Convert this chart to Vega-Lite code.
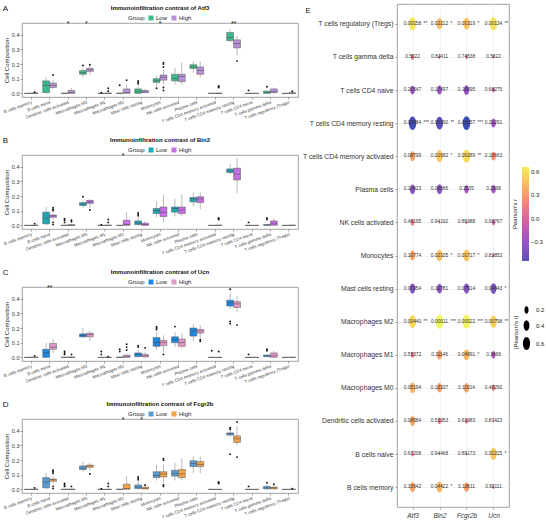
{
"$schema": "https://vega.github.io/schema/vega-lite/v6.json",
"padding": {"top": 3, "left": 2, "right": 0, "bottom": 0},
"config": {
  "font": "Liberation Sans, Arial, sans-serif",
  "view": {"stroke": "#8a8a8a", "strokeWidth": 0.8},
  "axis": {"labelColor": "#333", "tickColor": "#666", "tickWidth": 0.6, "tickSize": 2, "domain": false, "titleColor": "#222", "titleFontWeight": "normal", "grid": false, "labelFont": "Liberation Sans, Arial, sans-serif", "titleFont": "Liberation Sans, Arial, sans-serif"},
  "legend": {"padding": 0, "labelColor": "#222", "titleColor": "#222", "titleFontWeight": "normal", "labelFont": "Liberation Sans, Arial, sans-serif", "titleFont": "Liberation Sans, Arial, sans-serif"},
  "title": {"color": "#111", "font": "Liberation Sans, Arial, sans-serif"},
  "text": {"font": "Liberation Sans, Arial, sans-serif"}
},
"resolve": {"scale": {"color": "independent", "size": "independent"}, "legend": {"color": "independent", "size": "independent"}},
"datasets": {
"box": [
{"g":"Atf3","c":"B cells memory","k":"Low","lo":0,"q1":0,"md":0,"q3":0,"hi":0.001},
{"g":"Atf3","c":"B cells memory","k":"High","lo":0,"q1":0,"md":0.001,"q3":0.002,"hi":0.004},
{"g":"Atf3","c":"B cells naive","k":"Low","lo":0,"q1":0.005,"md":0.055,"q3":0.085,"hi":0.11},
{"g":"Atf3","c":"B cells naive","k":"High","lo":0.03,"q1":0.04,"md":0.055,"q3":0.07,"hi":0.09},
{"g":"Atf3","c":"Dendritic cells activated","k":"Low","lo":0,"q1":0,"md":0,"q3":0.002,"hi":0.004},
{"g":"Atf3","c":"Dendritic cells activated","k":"High","lo":0,"q1":0,"md":0.005,"q3":0.02,"hi":0.035},
{"g":"Atf3","c":"Macrophages M0","k":"Low","lo":0.11,"q1":0.13,"md":0.14,"q3":0.155,"hi":0.17},
{"g":"Atf3","c":"Macrophages M0","k":"High","lo":0.13,"q1":0.15,"md":0.16,"q3":0.17,"hi":0.185},
{"g":"Atf3","c":"Macrophages M1","k":"Low","lo":0,"q1":0,"md":0,"q3":0,"hi":0.001},
{"g":"Atf3","c":"Macrophages M1","k":"High","lo":0,"q1":0,"md":0,"q3":0.002,"hi":0.003},
{"g":"Atf3","c":"Macrophages M2","k":"Low","lo":0,"q1":0,"md":0,"q3":0.002,"hi":0.005},
{"g":"Atf3","c":"Macrophages M2","k":"High","lo":0,"q1":0,"md":0.005,"q3":0.03,"hi":0.06},
{"g":"Atf3","c":"Mast cells resting","k":"Low","lo":0,"q1":0,"md":0.01,"q3":0.03,"hi":0.05},
{"g":"Atf3","c":"Mast cells resting","k":"High","lo":0,"q1":0.005,"md":0.01,"q3":0.02,"hi":0.03},
{"g":"Atf3","c":"Monocytes","k":"Low","lo":0.05,"q1":0.075,"md":0.085,"q3":0.1,"hi":0.12},
{"g":"Atf3","c":"Monocytes","k":"High","lo":0.06,"q1":0.09,"md":0.11,"q3":0.125,"hi":0.16},
{"g":"Atf3","c":"NK cells activated","k":"Low","lo":0.06,"q1":0.085,"md":0.1,"q3":0.13,"hi":0.175},
{"g":"Atf3","c":"NK cells activated","k":"High","lo":0.06,"q1":0.08,"md":0.115,"q3":0.13,"hi":0.21},
{"g":"Atf3","c":"Plasma cells","k":"Low","lo":0.14,"q1":0.17,"md":0.18,"q3":0.195,"hi":0.22},
{"g":"Atf3","c":"Plasma cells","k":"High","lo":0.11,"q1":0.13,"md":0.155,"q3":0.18,"hi":0.215},
{"g":"Atf3","c":"T cells CD4 memory activated","k":"Low","lo":0,"q1":0,"md":0,"q3":0.001,"hi":0.002},
{"g":"Atf3","c":"T cells CD4 memory activated","k":"High","lo":0,"q1":0,"md":0,"q3":0.002,"hi":0.003},
{"g":"Atf3","c":"T cells CD4 memory resting","k":"Low","lo":0.35,"q1":0.36,"md":0.38,"q3":0.415,"hi":0.44},
{"g":"Atf3","c":"T cells CD4 memory resting","k":"High","lo":0.26,"q1":0.31,"md":0.34,"q3":0.365,"hi":0.39},
{"g":"Atf3","c":"T cells CD4 naive","k":"Low","lo":0,"q1":0,"md":0,"q3":0,"hi":0.001},
{"g":"Atf3","c":"T cells CD4 naive","k":"High","lo":0,"q1":0,"md":0,"q3":0,"hi":0.001},
{"g":"Atf3","c":"T cells gamma delta","k":"Low","lo":0,"q1":0,"md":0.005,"q3":0.015,"hi":0.02},
{"g":"Atf3","c":"T cells gamma delta","k":"High","lo":0,"q1":0.005,"md":0.01,"q3":0.03,"hi":0.04},
{"g":"Atf3","c":"T cells regulatory (Tregs)","k":"Low","lo":0,"q1":0,"md":0,"q3":0,"hi":0.001},
{"g":"Atf3","c":"T cells regulatory (Tregs)","k":"High","lo":0,"q1":0,"md":0,"q3":0.005,"hi":0.01},
{"g":"Bin2","c":"B cells memory","k":"Low","lo":0,"q1":0,"md":0,"q3":0,"hi":0.001},
{"g":"Bin2","c":"B cells memory","k":"High","lo":0,"q1":0,"md":0,"q3":0.002,"hi":0.005},
{"g":"Bin2","c":"B cells naive","k":"Low","lo":0,"q1":0.01,"md":0.05,"q3":0.09,"hi":0.125},
{"g":"Bin2","c":"B cells naive","k":"High","lo":0.04,"q1":0.055,"md":0.065,"q3":0.07,"hi":0.08},
{"g":"Bin2","c":"Dendritic cells activated","k":"Low","lo":0,"q1":0,"md":0,"q3":0.001,"hi":0.002},
{"g":"Bin2","c":"Dendritic cells activated","k":"High","lo":0,"q1":0,"md":0,"q3":0.005,"hi":0.01},
{"g":"Bin2","c":"Macrophages M0","k":"Low","lo":0.12,"q1":0.135,"md":0.145,"q3":0.155,"hi":0.17},
{"g":"Bin2","c":"Macrophages M0","k":"High","lo":0.12,"q1":0.15,"md":0.16,"q3":0.17,"hi":0.18},
{"g":"Bin2","c":"Macrophages M1","k":"Low","lo":0,"q1":0,"md":0,"q3":0,"hi":0.001},
{"g":"Bin2","c":"Macrophages M1","k":"High","lo":0,"q1":0,"md":0,"q3":0.002,"hi":0.003},
{"g":"Bin2","c":"Macrophages M2","k":"Low","lo":0,"q1":0,"md":0,"q3":0,"hi":0.002},
{"g":"Bin2","c":"Macrophages M2","k":"High","lo":0,"q1":0,"md":0.005,"q3":0.035,"hi":0.09},
{"g":"Bin2","c":"Mast cells resting","k":"Low","lo":0,"q1":0.005,"md":0.015,"q3":0.03,"hi":0.05},
{"g":"Bin2","c":"Mast cells resting","k":"High","lo":0,"q1":0,"md":0.005,"q3":0.015,"hi":0.03},
{"g":"Bin2","c":"Monocytes","k":"Low","lo":0.055,"q1":0.08,"md":0.1,"q3":0.115,"hi":0.165},
{"g":"Bin2","c":"Monocytes","k":"High","lo":0.02,"q1":0.06,"md":0.09,"q3":0.125,"hi":0.21},
{"g":"Bin2","c":"NK cells activated","k":"Low","lo":0.06,"q1":0.09,"md":0.115,"q3":0.125,"hi":0.18},
{"g":"Bin2","c":"NK cells activated","k":"High","lo":0.06,"q1":0.08,"md":0.105,"q3":0.125,"hi":0.21},
{"g":"Bin2","c":"Plasma cells","k":"Low","lo":0.13,"q1":0.16,"md":0.18,"q3":0.19,"hi":0.225},
{"g":"Bin2","c":"Plasma cells","k":"High","lo":0.11,"q1":0.155,"md":0.18,"q3":0.195,"hi":0.225},
{"g":"Bin2","c":"T cells CD4 memory activated","k":"Low","lo":0,"q1":0,"md":0,"q3":0,"hi":0.001},
{"g":"Bin2","c":"T cells CD4 memory activated","k":"High","lo":0,"q1":0,"md":0,"q3":0.002,"hi":0.004},
{"g":"Bin2","c":"T cells CD4 memory resting","k":"Low","lo":0.35,"q1":0.36,"md":0.37,"q3":0.385,"hi":0.42},
{"g":"Bin2","c":"T cells CD4 memory resting","k":"High","lo":0.22,"q1":0.31,"md":0.35,"q3":0.39,"hi":0.46},
{"g":"Bin2","c":"T cells CD4 naive","k":"Low","lo":0,"q1":0,"md":0,"q3":0,"hi":0.001},
{"g":"Bin2","c":"T cells CD4 naive","k":"High","lo":0,"q1":0,"md":0,"q3":0,"hi":0.001},
{"g":"Bin2","c":"T cells gamma delta","k":"Low","lo":0,"q1":0,"md":0.002,"q3":0.005,"hi":0.01},
{"g":"Bin2","c":"T cells gamma delta","k":"High","lo":0,"q1":0,"md":0.01,"q3":0.03,"hi":0.05},
{"g":"Bin2","c":"T cells regulatory (Tregs)","k":"Low","lo":0,"q1":0,"md":0,"q3":0,"hi":0.001},
{"g":"Bin2","c":"T cells regulatory (Tregs)","k":"High","lo":0,"q1":0,"md":0,"q3":0.002,"hi":0.004},
{"g":"Ucn","c":"B cells memory","k":"Low","lo":0,"q1":0,"md":0,"q3":0,"hi":0.001},
{"g":"Ucn","c":"B cells memory","k":"High","lo":0,"q1":0,"md":0,"q3":0.002,"hi":0.004},
{"g":"Ucn","c":"B cells naive","k":"Low","lo":0,"q1":0,"md":0.03,"q3":0.055,"hi":0.1},
{"g":"Ucn","c":"B cells naive","k":"High","lo":0.03,"q1":0.055,"md":0.07,"q3":0.095,"hi":0.125},
{"g":"Ucn","c":"Dendritic cells activated","k":"Low","lo":0,"q1":0,"md":0,"q3":0.001,"hi":0.003},
{"g":"Ucn","c":"Dendritic cells activated","k":"High","lo":0,"q1":0,"md":0,"q3":0.003,"hi":0.005},
{"g":"Ucn","c":"Macrophages M0","k":"Low","lo":0.13,"q1":0.14,"md":0.15,"q3":0.16,"hi":0.2},
{"g":"Ucn","c":"Macrophages M0","k":"High","lo":0.11,"q1":0.14,"md":0.155,"q3":0.165,"hi":0.18},
{"g":"Ucn","c":"Macrophages M1","k":"Low","lo":0,"q1":0,"md":0,"q3":0,"hi":0.001},
{"g":"Ucn","c":"Macrophages M1","k":"High","lo":0,"q1":0,"md":0,"q3":0,"hi":0.002},
{"g":"Ucn","c":"Macrophages M2","k":"Low","lo":0,"q1":0,"md":0,"q3":0.002,"hi":0.005},
{"g":"Ucn","c":"Macrophages M2","k":"High","lo":0,"q1":0,"md":0.005,"q3":0.015,"hi":0.02},
{"g":"Ucn","c":"Mast cells resting","k":"Low","lo":0,"q1":0.005,"md":0.02,"q3":0.03,"hi":0.05},
{"g":"Ucn","c":"Mast cells resting","k":"High","lo":0,"q1":0.003,"md":0.01,"q3":0.02,"hi":0.035},
{"g":"Ucn","c":"Monocytes","k":"Low","lo":0.05,"q1":0.075,"md":0.1,"q3":0.135,"hi":0.17},
{"g":"Ucn","c":"Monocytes","k":"High","lo":0.035,"q1":0.08,"md":0.1,"q3":0.115,"hi":0.15},
{"g":"Ucn","c":"NK cells activated","k":"Low","lo":0.07,"q1":0.1,"md":0.12,"q3":0.14,"hi":0.17},
{"g":"Ucn","c":"NK cells activated","k":"High","lo":0.06,"q1":0.075,"md":0.1,"q3":0.125,"hi":0.165},
{"g":"Ucn","c":"Plasma cells","k":"Low","lo":0.11,"q1":0.145,"md":0.18,"q3":0.2,"hi":0.225},
{"g":"Ucn","c":"Plasma cells","k":"High","lo":0.13,"q1":0.165,"md":0.18,"q3":0.19,"hi":0.22},
{"g":"Ucn","c":"T cells CD4 memory activated","k":"Low","lo":0,"q1":0,"md":0,"q3":0,"hi":0.001},
{"g":"Ucn","c":"T cells CD4 memory activated","k":"High","lo":0,"q1":0,"md":0,"q3":0,"hi":0.001},
{"g":"Ucn","c":"T cells CD4 memory resting","k":"Low","lo":0.33,"q1":0.35,"md":0.375,"q3":0.39,"hi":0.44},
{"g":"Ucn","c":"T cells CD4 memory resting","k":"High","lo":0.31,"q1":0.34,"md":0.365,"q3":0.38,"hi":0.42},
{"g":"Ucn","c":"T cells CD4 naive","k":"Low","lo":0,"q1":0,"md":0,"q3":0,"hi":0.001},
{"g":"Ucn","c":"T cells CD4 naive","k":"High","lo":0,"q1":0,"md":0,"q3":0,"hi":0.001},
{"g":"Ucn","c":"T cells gamma delta","k":"Low","lo":0,"q1":0.005,"md":0.01,"q3":0.015,"hi":0.02},
{"g":"Ucn","c":"T cells gamma delta","k":"High","lo":0,"q1":0,"md":0.01,"q3":0.03,"hi":0.045},
{"g":"Ucn","c":"T cells regulatory (Tregs)","k":"Low","lo":0,"q1":0,"md":0,"q3":0,"hi":0.001},
{"g":"Ucn","c":"T cells regulatory (Tregs)","k":"High","lo":0,"q1":0,"md":0,"q3":0.001,"hi":0.002},
{"g":"Fcgr2b","c":"B cells memory","k":"Low","lo":0,"q1":0,"md":0,"q3":0,"hi":0.001},
{"g":"Fcgr2b","c":"B cells memory","k":"High","lo":0,"q1":0,"md":0,"q3":0.002,"hi":0.004},
{"g":"Fcgr2b","c":"B cells naive","k":"Low","lo":0,"q1":0.01,"md":0.05,"q3":0.08,"hi":0.11},
{"g":"Fcgr2b","c":"B cells naive","k":"High","lo":0.04,"q1":0.055,"md":0.065,"q3":0.07,"hi":0.09},
{"g":"Fcgr2b","c":"Dendritic cells activated","k":"Low","lo":0,"q1":0,"md":0,"q3":0.001,"hi":0.003},
{"g":"Fcgr2b","c":"Dendritic cells activated","k":"High","lo":0,"q1":0,"md":0,"q3":0.002,"hi":0.004},
{"g":"Fcgr2b","c":"Macrophages M0","k":"Low","lo":0.12,"q1":0.135,"md":0.145,"q3":0.16,"hi":0.19},
{"g":"Fcgr2b","c":"Macrophages M0","k":"High","lo":0.13,"q1":0.15,"md":0.16,"q3":0.165,"hi":0.18},
{"g":"Fcgr2b","c":"Macrophages M1","k":"Low","lo":0,"q1":0,"md":0,"q3":0,"hi":0.001},
{"g":"Fcgr2b","c":"Macrophages M1","k":"High","lo":0,"q1":0,"md":0,"q3":0,"hi":0.003},
{"g":"Fcgr2b","c":"Macrophages M2","k":"Low","lo":0,"q1":0,"md":0,"q3":0.002,"hi":0.003},
{"g":"Fcgr2b","c":"Macrophages M2","k":"High","lo":0,"q1":0,"md":0.005,"q3":0.035,"hi":0.09},
{"g":"Fcgr2b","c":"Mast cells resting","k":"Low","lo":0,"q1":0.005,"md":0.015,"q3":0.03,"hi":0.05},
{"g":"Fcgr2b","c":"Mast cells resting","k":"High","lo":0,"q1":0.003,"md":0.008,"q3":0.015,"hi":0.03},
{"g":"Fcgr2b","c":"Monocytes","k":"Low","lo":0.06,"q1":0.08,"md":0.095,"q3":0.12,"hi":0.165},
{"g":"Fcgr2b","c":"Monocytes","k":"High","lo":0.04,"q1":0.085,"md":0.105,"q3":0.12,"hi":0.17},
{"g":"Fcgr2b","c":"NK cells activated","k":"Low","lo":0.06,"q1":0.09,"md":0.11,"q3":0.13,"hi":0.18},
{"g":"Fcgr2b","c":"NK cells activated","k":"High","lo":0.06,"q1":0.08,"md":0.105,"q3":0.135,"hi":0.21},
{"g":"Fcgr2b","c":"Plasma cells","k":"Low","lo":0.11,"q1":0.155,"md":0.175,"q3":0.195,"hi":0.225},
{"g":"Fcgr2b","c":"Plasma cells","k":"High","lo":0.11,"q1":0.155,"md":0.17,"q3":0.19,"hi":0.225},
{"g":"Fcgr2b","c":"T cells CD4 memory activated","k":"Low","lo":0,"q1":0,"md":0,"q3":0,"hi":0.001},
{"g":"Fcgr2b","c":"T cells CD4 memory activated","k":"High","lo":0,"q1":0,"md":0,"q3":0,"hi":0.002},
{"g":"Fcgr2b","c":"T cells CD4 memory resting","k":"Low","lo":0.36,"q1":0.37,"md":0.38,"q3":0.385,"hi":0.4},
{"g":"Fcgr2b","c":"T cells CD4 memory resting","k":"High","lo":0.3,"q1":0.32,"md":0.345,"q3":0.365,"hi":0.43},
{"g":"Fcgr2b","c":"T cells CD4 naive","k":"Low","lo":0,"q1":0,"md":0,"q3":0,"hi":0.001},
{"g":"Fcgr2b","c":"T cells CD4 naive","k":"High","lo":0,"q1":0,"md":0,"q3":0,"hi":0.001},
{"g":"Fcgr2b","c":"T cells gamma delta","k":"Low","lo":0,"q1":0.003,"md":0.01,"q3":0.02,"hi":0.03},
{"g":"Fcgr2b","c":"T cells gamma delta","k":"High","lo":0,"q1":0.003,"md":0.01,"q3":0.015,"hi":0.025},
{"g":"Fcgr2b","c":"T cells regulatory (Tregs)","k":"Low","lo":0,"q1":0,"md":0,"q3":0,"hi":0.001},
{"g":"Fcgr2b","c":"T cells regulatory (Tregs)","k":"High","lo":0,"q1":0,"md":0,"q3":0.001,"hi":0.002}
],
"out": [
{"g":"Atf3","c":"B cells memory","k":"High","v":0.008},
{"g":"Atf3","c":"B cells naive","k":"High","v":0.125},
{"g":"Atf3","c":"Macrophages M0","k":"Low","v":0.19},
{"g":"Atf3","c":"Macrophages M0","k":"High","v":0.195},
{"g":"Atf3","c":"Macrophages M1","k":"Low","v":0.004},
{"g":"Atf3","c":"Macrophages M1","k":"High","v":0.015},
{"g":"Atf3","c":"Macrophages M1","k":"High","v":0.035},
{"g":"Atf3","c":"Macrophages M2","k":"Low","v":0.055},
{"g":"Atf3","c":"Macrophages M2","k":"High","v":0.09},
{"g":"Atf3","c":"Mast cells resting","k":"Low","v":0.065},
{"g":"Atf3","c":"Mast cells resting","k":"Low","v":0.075},
{"g":"Atf3","c":"Mast cells resting","k":"Low","v":0.085},
{"g":"Atf3","c":"Monocytes","k":"Low","v":0.035},
{"g":"Atf3","c":"Monocytes","k":"High","v":0.2},
{"g":"Atf3","c":"Monocytes","k":"High","v":0.21},
{"g":"Atf3","c":"Monocytes","k":"High","v":0.18},
{"g":"Atf3","c":"Monocytes","k":"High","v":0.04},
{"g":"Atf3","c":"Monocytes","k":"High","v":0.02},
{"g":"Atf3","c":"T cells CD4 memory activated","k":"High","v":0.04},
{"g":"Atf3","c":"T cells CD4 memory activated","k":"High","v":0.045},
{"g":"Atf3","c":"T cells CD4 memory activated","k":"High","v":0.05},
{"g":"Atf3","c":"T cells CD4 memory resting","k":"High","v":0.22},
{"g":"Atf3","c":"T cells CD4 naive","k":"Low","v":0.02},
{"g":"Atf3","c":"T cells gamma delta","k":"Low","v":0.045},
{"g":"Atf3","c":"T cells regulatory (Tregs)","k":"High","v":0.015},
{"g":"Bin2","c":"B cells memory","k":"High","v":0.012},
{"g":"Bin2","c":"B cells naive","k":"High","v":0.12},
{"g":"Bin2","c":"B cells naive","k":"High","v":0.11},
{"g":"Bin2","c":"B cells naive","k":"High","v":0.1},
{"g":"Bin2","c":"B cells naive","k":"High","v":0.02},
{"g":"Bin2","c":"B cells naive","k":"High","v":0.005},
{"g":"Bin2","c":"Dendritic cells activated","k":"Low","v":0.02},
{"g":"Bin2","c":"Dendritic cells activated","k":"Low","v":0.035},
{"g":"Bin2","c":"Dendritic cells activated","k":"Low","v":0.045},
{"g":"Bin2","c":"Dendritic cells activated","k":"High","v":0.025},
{"g":"Bin2","c":"Dendritic cells activated","k":"High","v":0.035},
{"g":"Bin2","c":"Macrophages M0","k":"Low","v":0.195},
{"g":"Bin2","c":"Macrophages M0","k":"High","v":0.105},
{"g":"Bin2","c":"Macrophages M1","k":"Low","v":0.005},
{"g":"Bin2","c":"Macrophages M1","k":"High","v":0.02},
{"g":"Bin2","c":"Macrophages M1","k":"High","v":0.04},
{"g":"Bin2","c":"Mast cells resting","k":"Low","v":0.065},
{"g":"Bin2","c":"Mast cells resting","k":"Low","v":0.075},
{"g":"Bin2","c":"Mast cells resting","k":"Low","v":0.085},
{"g":"Bin2","c":"T cells CD4 memory activated","k":"High","v":0.04},
{"g":"Bin2","c":"T cells CD4 memory activated","k":"High","v":0.045},
{"g":"Bin2","c":"T cells CD4 memory activated","k":"High","v":0.05},
{"g":"Bin2","c":"T cells CD4 naive","k":"Low","v":0.02},
{"g":"Bin2","c":"T cells gamma delta","k":"Low","v":0.04},
{"g":"Bin2","c":"T cells gamma delta","k":"Low","v":0.05},
{"g":"Ucn","c":"B cells memory","k":"High","v":0.01},
{"g":"Ucn","c":"Dendritic cells activated","k":"Low","v":0.02},
{"g":"Ucn","c":"Dendritic cells activated","k":"Low","v":0.03},
{"g":"Ucn","c":"Dendritic cells activated","k":"Low","v":0.04},
{"g":"Ucn","c":"Dendritic cells activated","k":"High","v":0.02},
{"g":"Ucn","c":"Macrophages M1","k":"Low","v":0.02},
{"g":"Ucn","c":"Macrophages M1","k":"Low","v":0.04},
{"g":"Ucn","c":"Macrophages M1","k":"High","v":0.005},
{"g":"Ucn","c":"Macrophages M2","k":"Low","v":0.055},
{"g":"Ucn","c":"Macrophages M2","k":"Low","v":0.04},
{"g":"Ucn","c":"Macrophages M2","k":"High","v":0.05},
{"g":"Ucn","c":"Macrophages M2","k":"High","v":0.07},
{"g":"Ucn","c":"Macrophages M2","k":"High","v":0.09},
{"g":"Ucn","c":"Mast cells resting","k":"Low","v":0.07},
{"g":"Ucn","c":"Mast cells resting","k":"Low","v":0.08},
{"g":"Ucn","c":"Mast cells resting","k":"High","v":0.065},
{"g":"Ucn","c":"Monocytes","k":"Low","v":0.19},
{"g":"Ucn","c":"Monocytes","k":"Low","v":0.2},
{"g":"Ucn","c":"Monocytes","k":"Low","v":0.21},
{"g":"Ucn","c":"Monocytes","k":"High","v":0.02},
{"g":"Ucn","c":"NK cells activated","k":"Low","v":0.21},
{"g":"Ucn","c":"Plasma cells","k":"High","v":0.11},
{"g":"Ucn","c":"Plasma cells","k":"High","v":0.12},
{"g":"Ucn","c":"T cells CD4 memory activated","k":"Low","v":0.045},
{"g":"Ucn","c":"T cells CD4 memory activated","k":"High","v":0.04},
{"g":"Ucn","c":"T cells CD4 memory resting","k":"Low","v":0.465},
{"g":"Ucn","c":"T cells CD4 memory resting","k":"Low","v":0.23},
{"g":"Ucn","c":"T cells CD4 memory resting","k":"Low","v":0.245},
{"g":"Ucn","c":"T cells CD4 memory resting","k":"High","v":0.22},
{"g":"Ucn","c":"T cells CD4 naive","k":"Low","v":0.02},
{"g":"Ucn","c":"T cells gamma delta","k":"Low","v":0.045},
{"g":"Ucn","c":"T cells gamma delta","k":"Low","v":0.055},
{"g":"Fcgr2b","c":"B cells memory","k":"High","v":0.01},
{"g":"Fcgr2b","c":"B cells naive","k":"High","v":0.12},
{"g":"Fcgr2b","c":"B cells naive","k":"High","v":0.13},
{"g":"Fcgr2b","c":"B cells naive","k":"High","v":0.11},
{"g":"Fcgr2b","c":"B cells naive","k":"High","v":0.02},
{"g":"Fcgr2b","c":"B cells naive","k":"High","v":0.005},
{"g":"Fcgr2b","c":"Dendritic cells activated","k":"Low","v":0.02},
{"g":"Fcgr2b","c":"Dendritic cells activated","k":"Low","v":0.03},
{"g":"Fcgr2b","c":"Dendritic cells activated","k":"Low","v":0.04},
{"g":"Fcgr2b","c":"Dendritic cells activated","k":"High","v":0.02},
{"g":"Fcgr2b","c":"Macrophages M0","k":"High","v":0.105},
{"g":"Fcgr2b","c":"Macrophages M1","k":"Low","v":0.005},
{"g":"Fcgr2b","c":"Macrophages M1","k":"High","v":0.02},
{"g":"Fcgr2b","c":"Macrophages M1","k":"High","v":0.04},
{"g":"Fcgr2b","c":"Mast cells resting","k":"Low","v":0.065},
{"g":"Fcgr2b","c":"Mast cells resting","k":"Low","v":0.075},
{"g":"Fcgr2b","c":"Mast cells resting","k":"Low","v":0.085},
{"g":"Fcgr2b","c":"Mast cells resting","k":"High","v":0.03},
{"g":"Fcgr2b","c":"Monocytes","k":"High","v":0.2},
{"g":"Fcgr2b","c":"Monocytes","k":"High","v":0.21},
{"g":"Fcgr2b","c":"Monocytes","k":"High","v":0.03},
{"g":"Fcgr2b","c":"Monocytes","k":"High","v":0.02},
{"g":"Fcgr2b","c":"T cells CD4 memory activated","k":"High","v":0.04},
{"g":"Fcgr2b","c":"T cells CD4 memory activated","k":"High","v":0.045},
{"g":"Fcgr2b","c":"T cells CD4 memory activated","k":"High","v":0.05},
{"g":"Fcgr2b","c":"T cells CD4 memory resting","k":"Low","v":0.41},
{"g":"Fcgr2b","c":"T cells CD4 memory resting","k":"Low","v":0.42},
{"g":"Fcgr2b","c":"T cells CD4 memory resting","k":"Low","v":0.24},
{"g":"Fcgr2b","c":"T cells CD4 memory resting","k":"High","v":0.46},
{"g":"Fcgr2b","c":"T cells CD4 memory resting","k":"High","v":0.22},
{"g":"Fcgr2b","c":"T cells CD4 naive","k":"Low","v":0.02},
{"g":"Fcgr2b","c":"T cells gamma delta","k":"Low","v":0.045},
{"g":"Fcgr2b","c":"T cells gamma delta","k":"High","v":0.035},
{"g":"Fcgr2b","c":"T cells regulatory (Tregs)","k":"High","v":0.005}
],
"sig": [
{"g":"Atf3","c":"Dendritic cells activated","t":"*","v":0.47},
{"g":"Atf3","c":"Macrophages M0","t":"*","v":0.47},
{"g":"Atf3","c":"Monocytes","t":"*","v":0.47},
{"g":"Atf3","c":"T cells CD4 memory resting","t":"**","v":0.47},
{"g":"Bin2","c":"Macrophages M2","t":"*","v":0.47},
{"g":"Ucn","c":"B cells naive","t":"**","v":0.47},
{"g":"Fcgr2b","c":"Macrophages M2","t":"*","v":0.47},
{"g":"Fcgr2b","c":"Mast cells resting","t":"*","v":0.47}
],
"cor": [
{"c":"T cells regulatory (Tregs)","g":"Atf3","r":0.62,"ar":0.62,"p":"0.00158","s":"**"},
{"c":"T cells regulatory (Tregs)","g":"Bin2","r":0.45,"ar":0.45,"p":"0.02212","s":"*"},
{"c":"T cells regulatory (Tregs)","g":"Fcgr2b","r":0.47,"ar":0.47,"p":"0.01319","s":"*"},
{"c":"T cells regulatory (Tregs)","g":"Ucn","r":0.62,"ar":0.62,"p":"0.00134","s":"**"},
{"c":"T cells gamma delta","g":"Atf3","r":0.13,"ar":0.13,"p":"0.5022","s":""},
{"c":"T cells gamma delta","g":"Bin2","r":-0.05,"ar":0.05,"p":"0.82411","s":""},
{"c":"T cells gamma delta","g":"Fcgr2b","r":-0.07,"ar":0.07,"p":"0.74538","s":""},
{"c":"T cells gamma delta","g":"Ucn","r":0.04,"ar":0.04,"p":"0.5822","s":""},
{"c":"T cells CD4 naive","g":"Atf3","r":-0.27,"ar":0.27,"p":"0.20547","s":""},
{"c":"T cells CD4 naive","g":"Bin2","r":-0.29,"ar":0.29,"p":"0.17497","s":""},
{"c":"T cells CD4 naive","g":"Fcgr2b","r":-0.34,"ar":0.34,"p":"0.10095","s":""},
{"c":"T cells CD4 naive","g":"Ucn","r":-0.09,"ar":0.09,"p":"0.68275","s":""},
{"c":"T cells CD4 memory resting","g":"Atf3","r":-0.64,"ar":0.64,"p":"0.00084","s":"***"},
{"c":"T cells CD4 memory resting","g":"Bin2","r":-0.57,"ar":0.57,"p":"0.00390","s":"**"},
{"c":"T cells CD4 memory resting","g":"Fcgr2b","r":-0.66,"ar":0.66,"p":"0.00057","s":"***"},
{"c":"T cells CD4 memory resting","g":"Ucn","r":-0.26,"ar":0.26,"p":"0.21291","s":""},
{"c":"T cells CD4 memory activated","g":"Atf3","r":0.35,"ar":0.35,"p":"0.08799","s":""},
{"c":"T cells CD4 memory activated","g":"Bin2","r":0.49,"ar":0.49,"p":"0.01682","s":"*"},
{"c":"T cells CD4 memory activated","g":"Fcgr2b","r":0.58,"ar":0.58,"p":"0.00289","s":"**"},
{"c":"T cells CD4 memory activated","g":"Ucn","r":0.27,"ar":0.27,"p":"0.19663","s":""},
{"c":"Plasma cells","g":"Atf3","r":-0.34,"ar":0.34,"p":"0.10423","s":""},
{"c":"Plasma cells","g":"Bin2","r":-0.35,"ar":0.35,"p":"0.09686","s":""},
{"c":"Plasma cells","g":"Fcgr2b","r":-0.24,"ar":0.24,"p":"0.2535","s":""},
{"c":"Plasma cells","g":"Ucn","r":-0.25,"ar":0.25,"p":"0.2398","s":""},
{"c":"NK cells activated","g":"Atf3","r":0.16,"ar":0.16,"p":"0.46195","s":""},
{"c":"NK cells activated","g":"Bin2","r":-0.02,"ar":0.02,"p":"0.94192","s":""},
{"c":"NK cells activated","g":"Fcgr2b","r":0.04,"ar":0.04,"p":"0.86988","s":""},
{"c":"NK cells activated","g":"Ucn","r":-0.11,"ar":0.11,"p":"0.60767","s":""},
{"c":"Monocytes","g":"Atf3","r":0.34,"ar":0.34,"p":"0.10774","s":""},
{"c":"Monocytes","g":"Bin2","r":0.47,"ar":0.47,"p":"0.02105","s":"*"},
{"c":"Monocytes","g":"Fcgr2b","r":0.48,"ar":0.48,"p":"0.01717","s":"*"},
{"c":"Monocytes","g":"Ucn","r":0.05,"ar":0.05,"p":"0.82853","s":""},
{"c":"Mast cells resting","g":"Atf3","r":-0.37,"ar":0.37,"p":"0.07954","s":""},
{"c":"Mast cells resting","g":"Bin2","r":-0.34,"ar":0.34,"p":"0.10781","s":""},
{"c":"Mast cells resting","g":"Fcgr2b","r":-0.37,"ar":0.37,"p":"0.07514","s":""},
{"c":"Mast cells resting","g":"Ucn","r":-0.41,"ar":0.41,"p":"0.04943","s":"*"},
{"c":"Macrophages M2","g":"Atf3","r":0.57,"ar":0.57,"p":"0.00440","s":"**"},
{"c":"Macrophages M2","g":"Bin2","r":0.7,"ar":0.7,"p":"0.00011","s":"***"},
{"c":"Macrophages M2","g":"Fcgr2b","r":0.68,"ar":0.68,"p":"0.00022","s":"***"},
{"c":"Macrophages M2","g":"Ucn","r":0.54,"ar":0.54,"p":"0.00798","s":"**"},
{"c":"Macrophages M1","g":"Atf3","r":0.13,"ar":0.13,"p":"0.55372","s":""},
{"c":"Macrophages M1","g":"Bin2","r":0.33,"ar":0.33,"p":"0.11146","s":""},
{"c":"Macrophages M1","g":"Fcgr2b","r":0.41,"ar":0.41,"p":"0.04891","s":"*"},
{"c":"Macrophages M1","g":"Ucn","r":-0.2,"ar":0.2,"p":"0.3468","s":""},
{"c":"Macrophages M0","g":"Atf3","r":0.4,"ar":0.4,"p":"0.05194","s":""},
{"c":"Macrophages M0","g":"Bin2","r":0.32,"ar":0.32,"p":"0.13337","s":""},
{"c":"Macrophages M0","g":"Fcgr2b","r":0.33,"ar":0.33,"p":"0.11014","s":""},
{"c":"Macrophages M0","g":"Ucn","r":0.15,"ar":0.15,"p":"0.48290","s":""},
{"c":"Dendritic cells activated","g":"Atf3","r":0.36,"ar":0.36,"p":"0.08584","s":""},
{"c":"Dendritic cells activated","g":"Bin2","r":0.14,"ar":0.14,"p":"0.51953","s":""},
{"c":"Dendritic cells activated","g":"Fcgr2b","r":0.11,"ar":0.11,"p":"0.61983","s":""},
{"c":"Dendritic cells activated","g":"Ucn","r":0.03,"ar":0.03,"p":"0.87423","s":""},
{"c":"B cells naive","g":"Atf3","r":0.09,"ar":0.09,"p":"0.67208","s":""},
{"c":"B cells naive","g":"Bin2","r":-0.02,"ar":0.02,"p":"0.94468","s":""},
{"c":"B cells naive","g":"Fcgr2b","r":0.03,"ar":0.03,"p":"0.89173","s":""},
{"c":"B cells naive","g":"Ucn","r":0.5,"ar":0.5,"p":"0.01215","s":"*"},
{"c":"B cells memory","g":"Atf3","r":0.34,"ar":0.34,"p":"0.10642","s":""},
{"c":"B cells memory","g":"Bin2","r":0.42,"ar":0.42,"p":"0.04422","s":"*"},
{"c":"B cells memory","g":"Fcgr2b","r":0.31,"ar":0.31,"p":"0.13611","s":""},
{"c":"B cells memory","g":"Ucn","r":0.05,"ar":0.05,"p":"0.82111","s":""}
]
},
"hconcat": [
{
 "spacing": 0,
 "resolve": {"scale": {"color": "independent", "x": "independent", "y": "independent", "xOffset": "independent"}, "legend": {"color": "independent"}},
 "vconcat": [
 {"width": 10, "height": 1, "data": {"values": [{}]}, "mark": {"type": "rule", "opacity": 0}, "encoding": {}, "view": {"stroke": null}},
 {
 "spacing": 12,
 "resolve": {"scale": {"color": "independent", "x": "independent", "y": "independent", "xOffset": "independent"}, "legend": {"color": "independent"}},
 "vconcat": [
 {
  "title": {"text": "A", "anchor": "start", "fontSize": 8, "fontWeight": "normal", "offset": -8},
  "vconcat": [{
   "width": 276, "height": 74,
   "title": {"text": "Immunoinfiltration contrast of Atf3", "fontSize": 6, "fontWeight": "bold", "offset": 9},
   "encoding": {"x": {"field": "c", "type": "nominal", "title": null, "scale": {"domain": ["B cells memory","B cells naive","Dendritic cells activated","Macrophages M0","Macrophages M1","Macrophages M2","Mast cells resting","Monocytes","NK cells activated","Plasma cells","T cells CD4 memory activated","T cells CD4 memory resting","T cells CD4 naive","T cells gamma delta","T cells regulatory (Tregs)"], "paddingInner": 0.25, "paddingOuter": 0.125}, "axis": {"labelAngle": -20, "labelAlign": "right", "labelBaseline": "top", "labelFontSize": 4.3, "labelPadding": 1, "labelColor": "#444"}}},
   "layer": [
    {"data": {"name": "box"}, "transform": [{"filter": "datum.g === 'Atf3'"}], "mark": {"type": "rule", "color": "#8a8a8a", "strokeWidth": 0.6}, "encoding": {"xOffset": {"field": "k", "type": "nominal", "scale": {"domain": ["Low","High"], "paddingInner": 0, "paddingOuter": 0}}, "y": {"field": "lo", "type": "quantitative", "scale": {"domain": [-0.025, 0.48], "nice": false, "zero": false}, "axis": {"values": [0, 0.1, 0.2, 0.3, 0.4], "format": ".1f", "labelFontSize": 5.5, "title": "Cell Composition", "titleFontSize": 6, "titlePadding": 2, "labelPadding": 1, "labelOverlap": false}}, "y2": {"field": "hi"}}},
    {"data": {"name": "box"}, "transform": [{"filter": "datum.g === 'Atf3'"}], "mark": {"type": "bar", "stroke": "#5a5a5a", "strokeWidth": 0.5}, "encoding": {"xOffset": {"field": "k", "type": "nominal", "scale": {"domain": ["Low","High"], "paddingInner": 0, "paddingOuter": 0}}, "y": {"field": "q1", "type": "quantitative", "axis": {"values": [0, 0.1, 0.2, 0.3, 0.4], "format": ".1f", "labelFontSize": 5.5, "title": "Cell Composition", "titleFontSize": 6, "titlePadding": 2, "labelPadding": 1, "labelOverlap": false}}, "y2": {"field": "q3"}, "color": {"field": "k", "type": "nominal", "scale": {"domain": ["Group","Low","High"], "range": ["rgba(0,0,0,0)", "#3dba8c", "#b892d6"]}, "legend": {"title": null, "orient": "none", "legendX": 98, "legendY": -8, "direction": "horizontal", "symbolType": "square", "symbolSize": 25, "symbolStrokeWidth": 0, "symbolOpacity": 1, "labelFontSize": 6, "labelOffset": 2, "columnPadding": 3}}}},
    {"data": {"name": "box"}, "transform": [{"filter": "datum.g === 'Atf3'"}], "mark": {"type": "tick", "color": "#444", "thickness": 0.7, "size": 6.5}, "encoding": {"xOffset": {"field": "k", "type": "nominal", "scale": {"domain": ["Low","High"], "paddingInner": 0, "paddingOuter": 0}}, "y": {"field": "md", "type": "quantitative", "axis": {"values": [0, 0.1, 0.2, 0.3, 0.4], "format": ".1f", "labelFontSize": 5.5, "title": "Cell Composition", "titleFontSize": 6, "titlePadding": 2, "labelPadding": 1, "labelOverlap": false}}}},
    {"data": {"name": "out"}, "transform": [{"filter": "datum.g === 'Atf3'"}], "mark": {"type": "circle", "size": 3.5, "color": "#111", "opacity": 1}, "encoding": {"xOffset": {"field": "k", "type": "nominal", "scale": {"domain": ["Low","High"], "paddingInner": 0, "paddingOuter": 0}}, "y": {"field": "v", "type": "quantitative", "axis": {"values": [0, 0.1, 0.2, 0.3, 0.4], "format": ".1f", "labelFontSize": 5.5, "title": "Cell Composition", "titleFontSize": 6, "titlePadding": 2, "labelPadding": 1, "labelOverlap": false}}}},
    {"data": {"name": "sig"}, "transform": [{"filter": "datum.g === 'Atf3'"}], "mark": {"type": "text", "fontSize": 7, "baseline": "middle", "color": "#111"}, "encoding": {"y": {"field": "v", "type": "quantitative", "axis": {"values": [0, 0.1, 0.2, 0.3, 0.4], "format": ".1f", "labelFontSize": 5.5, "title": "Cell Composition", "titleFontSize": 6, "titlePadding": 2, "labelPadding": 1, "labelOverlap": false}}, "text": {"field": "t"}}}
   ]
  }]
 },
 {
  "title": {"text": "B", "anchor": "start", "fontSize": 8, "fontWeight": "normal", "offset": -8},
  "vconcat": [{
   "width": 276, "height": 74,
   "title": {"text": "Immunoinfiltration contrast of Bin2", "fontSize": 6, "fontWeight": "bold", "offset": 9},
   "encoding": {"x": {"field": "c", "type": "nominal", "title": null, "scale": {"domain": ["B cells memory","B cells naive","Dendritic cells activated","Macrophages M0","Macrophages M1","Macrophages M2","Mast cells resting","Monocytes","NK cells activated","Plasma cells","T cells CD4 memory activated","T cells CD4 memory resting","T cells CD4 naive","T cells gamma delta","T cells regulatory (Tregs)"], "paddingInner": 0.25, "paddingOuter": 0.125}, "axis": {"labelAngle": -20, "labelAlign": "right", "labelBaseline": "top", "labelFontSize": 4.3, "labelPadding": 1, "labelColor": "#444"}}},
   "layer": [
    {"data": {"name": "box"}, "transform": [{"filter": "datum.g === 'Bin2'"}], "mark": {"type": "rule", "color": "#8a8a8a", "strokeWidth": 0.6}, "encoding": {"xOffset": {"field": "k", "type": "nominal", "scale": {"domain": ["Low","High"], "paddingInner": 0, "paddingOuter": 0}}, "y": {"field": "lo", "type": "quantitative", "scale": {"domain": [-0.025, 0.48], "nice": false, "zero": false}, "axis": {"values": [0, 0.1, 0.2, 0.3, 0.4], "format": ".1f", "labelFontSize": 5.5, "title": "Cell Composition", "titleFontSize": 6, "titlePadding": 2, "labelPadding": 1, "labelOverlap": false}}, "y2": {"field": "hi"}}},
    {"data": {"name": "box"}, "transform": [{"filter": "datum.g === 'Bin2'"}], "mark": {"type": "bar", "stroke": "#5a5a5a", "strokeWidth": 0.5}, "encoding": {"xOffset": {"field": "k", "type": "nominal", "scale": {"domain": ["Low","High"], "paddingInner": 0, "paddingOuter": 0}}, "y": {"field": "q1", "type": "quantitative", "axis": {"values": [0, 0.1, 0.2, 0.3, 0.4], "format": ".1f", "labelFontSize": 5.5, "title": "Cell Composition", "titleFontSize": 6, "titlePadding": 2, "labelPadding": 1, "labelOverlap": false}}, "y2": {"field": "q3"}, "color": {"field": "k", "type": "nominal", "scale": {"domain": ["Group","Low","High"], "range": ["rgba(0,0,0,0)", "#22a6b6", "#c56fe3"]}, "legend": {"title": null, "orient": "none", "legendX": 98, "legendY": -8, "direction": "horizontal", "symbolType": "square", "symbolSize": 25, "symbolStrokeWidth": 0, "symbolOpacity": 1, "labelFontSize": 6, "labelOffset": 2, "columnPadding": 3}}}},
    {"data": {"name": "box"}, "transform": [{"filter": "datum.g === 'Bin2'"}], "mark": {"type": "tick", "color": "#444", "thickness": 0.7, "size": 6.5}, "encoding": {"xOffset": {"field": "k", "type": "nominal", "scale": {"domain": ["Low","High"], "paddingInner": 0, "paddingOuter": 0}}, "y": {"field": "md", "type": "quantitative", "axis": {"values": [0, 0.1, 0.2, 0.3, 0.4], "format": ".1f", "labelFontSize": 5.5, "title": "Cell Composition", "titleFontSize": 6, "titlePadding": 2, "labelPadding": 1, "labelOverlap": false}}}},
    {"data": {"name": "out"}, "transform": [{"filter": "datum.g === 'Bin2'"}], "mark": {"type": "circle", "size": 3.5, "color": "#111", "opacity": 1}, "encoding": {"xOffset": {"field": "k", "type": "nominal", "scale": {"domain": ["Low","High"], "paddingInner": 0, "paddingOuter": 0}}, "y": {"field": "v", "type": "quantitative", "axis": {"values": [0, 0.1, 0.2, 0.3, 0.4], "format": ".1f", "labelFontSize": 5.5, "title": "Cell Composition", "titleFontSize": 6, "titlePadding": 2, "labelPadding": 1, "labelOverlap": false}}}},
    {"data": {"name": "sig"}, "transform": [{"filter": "datum.g === 'Bin2'"}], "mark": {"type": "text", "fontSize": 7, "baseline": "middle", "color": "#111"}, "encoding": {"y": {"field": "v", "type": "quantitative", "axis": {"values": [0, 0.1, 0.2, 0.3, 0.4], "format": ".1f", "labelFontSize": 5.5, "title": "Cell Composition", "titleFontSize": 6, "titlePadding": 2, "labelPadding": 1, "labelOverlap": false}}, "text": {"field": "t"}}}
   ]
  }]
 },
 {
  "title": {"text": "C", "anchor": "start", "fontSize": 8, "fontWeight": "normal", "offset": -8},
  "vconcat": [{
   "width": 276, "height": 74,
   "title": {"text": "Immunoinfiltration contrast of Ucn", "fontSize": 6, "fontWeight": "bold", "offset": 9},
   "encoding": {"x": {"field": "c", "type": "nominal", "title": null, "scale": {"domain": ["B cells memory","B cells naive","Dendritic cells activated","Macrophages M0","Macrophages M1","Macrophages M2","Mast cells resting","Monocytes","NK cells activated","Plasma cells","T cells CD4 memory activated","T cells CD4 memory resting","T cells CD4 naive","T cells gamma delta","T cells regulatory (Tregs)"], "paddingInner": 0.25, "paddingOuter": 0.125}, "axis": {"labelAngle": -20, "labelAlign": "right", "labelBaseline": "top", "labelFontSize": 4.3, "labelPadding": 1, "labelColor": "#444"}}},
   "layer": [
    {"data": {"name": "box"}, "transform": [{"filter": "datum.g === 'Ucn'"}], "mark": {"type": "rule", "color": "#8a8a8a", "strokeWidth": 0.6}, "encoding": {"xOffset": {"field": "k", "type": "nominal", "scale": {"domain": ["Low","High"], "paddingInner": 0, "paddingOuter": 0}}, "y": {"field": "lo", "type": "quantitative", "scale": {"domain": [-0.025, 0.48], "nice": false, "zero": false}, "axis": {"values": [0, 0.1, 0.2, 0.3, 0.4], "format": ".1f", "labelFontSize": 5.5, "title": "Cell Composition", "titleFontSize": 6, "titlePadding": 2, "labelPadding": 1, "labelOverlap": false}}, "y2": {"field": "hi"}}},
    {"data": {"name": "box"}, "transform": [{"filter": "datum.g === 'Ucn'"}], "mark": {"type": "bar", "stroke": "#5a5a5a", "strokeWidth": 0.5}, "encoding": {"xOffset": {"field": "k", "type": "nominal", "scale": {"domain": ["Low","High"], "paddingInner": 0, "paddingOuter": 0}}, "y": {"field": "q1", "type": "quantitative", "axis": {"values": [0, 0.1, 0.2, 0.3, 0.4], "format": ".1f", "labelFontSize": 5.5, "title": "Cell Composition", "titleFontSize": 6, "titlePadding": 2, "labelPadding": 1, "labelOverlap": false}}, "y2": {"field": "q3"}, "color": {"field": "k", "type": "nominal", "scale": {"domain": ["Group","Low","High"], "range": ["rgba(0,0,0,0)", "#1d87e4", "#e397c9"]}, "legend": {"title": null, "orient": "none", "legendX": 98, "legendY": -8, "direction": "horizontal", "symbolType": "square", "symbolSize": 25, "symbolStrokeWidth": 0, "symbolOpacity": 1, "labelFontSize": 6, "labelOffset": 2, "columnPadding": 3}}}},
    {"data": {"name": "box"}, "transform": [{"filter": "datum.g === 'Ucn'"}], "mark": {"type": "tick", "color": "#444", "thickness": 0.7, "size": 6.5}, "encoding": {"xOffset": {"field": "k", "type": "nominal", "scale": {"domain": ["Low","High"], "paddingInner": 0, "paddingOuter": 0}}, "y": {"field": "md", "type": "quantitative", "axis": {"values": [0, 0.1, 0.2, 0.3, 0.4], "format": ".1f", "labelFontSize": 5.5, "title": "Cell Composition", "titleFontSize": 6, "titlePadding": 2, "labelPadding": 1, "labelOverlap": false}}}},
    {"data": {"name": "out"}, "transform": [{"filter": "datum.g === 'Ucn'"}], "mark": {"type": "circle", "size": 3.5, "color": "#111", "opacity": 1}, "encoding": {"xOffset": {"field": "k", "type": "nominal", "scale": {"domain": ["Low","High"], "paddingInner": 0, "paddingOuter": 0}}, "y": {"field": "v", "type": "quantitative", "axis": {"values": [0, 0.1, 0.2, 0.3, 0.4], "format": ".1f", "labelFontSize": 5.5, "title": "Cell Composition", "titleFontSize": 6, "titlePadding": 2, "labelPadding": 1, "labelOverlap": false}}}},
    {"data": {"name": "sig"}, "transform": [{"filter": "datum.g === 'Ucn'"}], "mark": {"type": "text", "fontSize": 7, "baseline": "middle", "color": "#111"}, "encoding": {"y": {"field": "v", "type": "quantitative", "axis": {"values": [0, 0.1, 0.2, 0.3, 0.4], "format": ".1f", "labelFontSize": 5.5, "title": "Cell Composition", "titleFontSize": 6, "titlePadding": 2, "labelPadding": 1, "labelOverlap": false}}, "text": {"field": "t"}}}
   ]
  }]
 },
 {
  "title": {"text": "D", "anchor": "start", "fontSize": 8, "fontWeight": "normal", "offset": -8},
  "vconcat": [{
   "width": 276, "height": 74,
   "title": {"text": "Immunoinfiltration contrast of Fcgr2b", "fontSize": 6, "fontWeight": "bold", "offset": 9},
   "encoding": {"x": {"field": "c", "type": "nominal", "title": null, "scale": {"domain": ["B cells memory","B cells naive","Dendritic cells activated","Macrophages M0","Macrophages M1","Macrophages M2","Mast cells resting","Monocytes","NK cells activated","Plasma cells","T cells CD4 memory activated","T cells CD4 memory resting","T cells CD4 naive","T cells gamma delta","T cells regulatory (Tregs)"], "paddingInner": 0.25, "paddingOuter": 0.125}, "axis": {"labelAngle": -20, "labelAlign": "right", "labelBaseline": "top", "labelFontSize": 4.3, "labelPadding": 1, "labelColor": "#444"}}},
   "layer": [
    {"data": {"name": "box"}, "transform": [{"filter": "datum.g === 'Fcgr2b'"}], "mark": {"type": "rule", "color": "#8a8a8a", "strokeWidth": 0.6}, "encoding": {"xOffset": {"field": "k", "type": "nominal", "scale": {"domain": ["Low","High"], "paddingInner": 0, "paddingOuter": 0}}, "y": {"field": "lo", "type": "quantitative", "scale": {"domain": [-0.025, 0.48], "nice": false, "zero": false}, "axis": {"values": [0, 0.1, 0.2, 0.3, 0.4], "format": ".1f", "labelFontSize": 5.5, "title": "Cell Composition", "titleFontSize": 6, "titlePadding": 2, "labelPadding": 1, "labelOverlap": false}}, "y2": {"field": "hi"}}},
    {"data": {"name": "box"}, "transform": [{"filter": "datum.g === 'Fcgr2b'"}], "mark": {"type": "bar", "stroke": "#5a5a5a", "strokeWidth": 0.5}, "encoding": {"xOffset": {"field": "k", "type": "nominal", "scale": {"domain": ["Low","High"], "paddingInner": 0, "paddingOuter": 0}}, "y": {"field": "q1", "type": "quantitative", "axis": {"values": [0, 0.1, 0.2, 0.3, 0.4], "format": ".1f", "labelFontSize": 5.5, "title": "Cell Composition", "titleFontSize": 6, "titlePadding": 2, "labelPadding": 1, "labelOverlap": false}}, "y2": {"field": "q3"}, "color": {"field": "k", "type": "nominal", "scale": {"domain": ["Group","Low","High"], "range": ["rgba(0,0,0,0)", "#5a9bd1", "#f3a24c"]}, "legend": {"title": null, "orient": "none", "legendX": 98, "legendY": -8, "direction": "horizontal", "symbolType": "square", "symbolSize": 25, "symbolStrokeWidth": 0, "symbolOpacity": 1, "labelFontSize": 6, "labelOffset": 2, "columnPadding": 3}}}},
    {"data": {"name": "box"}, "transform": [{"filter": "datum.g === 'Fcgr2b'"}], "mark": {"type": "tick", "color": "#444", "thickness": 0.7, "size": 6.5}, "encoding": {"xOffset": {"field": "k", "type": "nominal", "scale": {"domain": ["Low","High"], "paddingInner": 0, "paddingOuter": 0}}, "y": {"field": "md", "type": "quantitative", "axis": {"values": [0, 0.1, 0.2, 0.3, 0.4], "format": ".1f", "labelFontSize": 5.5, "title": "Cell Composition", "titleFontSize": 6, "titlePadding": 2, "labelPadding": 1, "labelOverlap": false}}}},
    {"data": {"name": "out"}, "transform": [{"filter": "datum.g === 'Fcgr2b'"}], "mark": {"type": "circle", "size": 3.5, "color": "#111", "opacity": 1}, "encoding": {"xOffset": {"field": "k", "type": "nominal", "scale": {"domain": ["Low","High"], "paddingInner": 0, "paddingOuter": 0}}, "y": {"field": "v", "type": "quantitative", "axis": {"values": [0, 0.1, 0.2, 0.3, 0.4], "format": ".1f", "labelFontSize": 5.5, "title": "Cell Composition", "titleFontSize": 6, "titlePadding": 2, "labelPadding": 1, "labelOverlap": false}}}},
    {"data": {"name": "sig"}, "transform": [{"filter": "datum.g === 'Fcgr2b'"}], "mark": {"type": "text", "fontSize": 7, "baseline": "middle", "color": "#111"}, "encoding": {"y": {"field": "v", "type": "quantitative", "axis": {"values": [0, 0.1, 0.2, 0.3, 0.4], "format": ".1f", "labelFontSize": 5.5, "title": "Cell Composition", "titleFontSize": 6, "titlePadding": 2, "labelPadding": 1, "labelOverlap": false}}, "text": {"field": "t"}}}
   ]
  }]
 }
 ]
 }
 ]
},
{
 "width": 112, "height": 503,
 "data": {"name": "cor"},
 "resolve": {"axis": {"y": "independent"}},
 "encoding": {
  "x": {"field": "g", "type": "nominal", "title": null, "scale": {"type": "point", "domain": ["Atf3","Bin2","Fcgr2b","Ucn"], "padding": 0.575}, "axis": {"labelAngle": 0, "labelFontStyle": "italic", "labelFontSize": 6.5, "labelColor": "#333", "grid": true, "gridColor": "#ececec", "gridWidth": 0.6, "labelPadding": 3}}
 },
 "layer": [
  {"mark": {"type": "point", "shape": "M0,-1A0.55,1,0,1,1,0,1A0.55,1,0,1,1,0,-1Z", "filled": true, "opacity": 1, "strokeWidth": 0},
   "encoding": {
    "y": {"field": "c", "type": "nominal", "title": "E", "scale": {"type": "point", "domain": ["T cells regulatory (Tregs)","T cells gamma delta","T cells CD4 naive","T cells CD4 memory resting","T cells CD4 memory activated","Plasma cells","NK cells activated","Monocytes","Mast cells resting","Macrophages M2","Macrophages M1","Macrophages M0","Dendritic cells activated","B cells naive","B cells memory"], "padding": 0.6}, "axis": {"labelFontSize": 6.8, "labelColor": "#333", "grid": true, "gridColor": "#ececec", "gridWidth": 0.6, "labelPadding": 2, "titleAngle": 0, "titleAlign": "left", "titleBaseline": "top", "titleX": -92, "titleY": 2, "titleFontSize": 8, "titleFontWeight": "normal", "titleColor": "#111"}},
    "color": {"field": "r", "type": "quantitative", "scale": {"domain": [-0.54, -0.24, 0.06, 0.36, 0.66], "range": ["#5e4fbb", "#a354c6", "#dd6f95", "#f5a863", "#f4ee60"]}, "legend": {"title": "Pearson's r", "titleOrient": "left", "orient": "none", "legendX": 115, "legendY": 163, "direction": "vertical", "gradientLength": 94, "gradientThickness": 7, "gradientStrokeWidth": 0, "values": [-0.3, 0, 0.3, 0.6], "format": ".1f", "labelFontSize": 6, "titleFontSize": 6, "labelOverlap": false, "titlePadding": 3}},
    "size": {"field": "ar", "type": "quantitative", "scale": {"domain": [0, 0.6], "range": [0, 169]}, "legend": {"title": null, "orient": "none", "legendX": 123, "legendY": 302, "direction": "vertical", "values": [0.2, 0.4, 0.6], "format": ".1f", "symbolType": "M0,-1A0.55,1,0,1,1,0,1A0.55,1,0,1,1,0,-1Z", "symbolFillColor": "#000", "symbolStrokeWidth": 0, "symbolOpacity": 1, "labelFontSize": 6, "labelColor": "#222", "labelOffset": 3, "rowPadding": 6}}
   }},
  {"mark": {"type": "text", "fontSize": 4.8, "color": "#333", "baseline": "middle"}, "encoding": {"y": {"field": "c", "type": "nominal", "axis": null}, "text": {"field": "p"}}},
  {"mark": {"type": "text", "fontSize": 4.8, "color": "#333", "baseline": "middle", "align": "left", "dx": 11}, "encoding": {"y": {"field": "c", "type": "nominal", "axis": {"orient": "right", "labels": false, "ticks": false, "domain": false, "grid": false, "title": "|Pearson's r|", "titleAngle": 270, "titleAlign": "center", "titleBaseline": "middle", "titleX": 6, "titleY": 328, "titleFontSize": 6, "titleFontWeight": "normal", "titleColor": "#222"}}, "text": {"field": "s"}}}
 ]
}
],
"spacing": 2
}
